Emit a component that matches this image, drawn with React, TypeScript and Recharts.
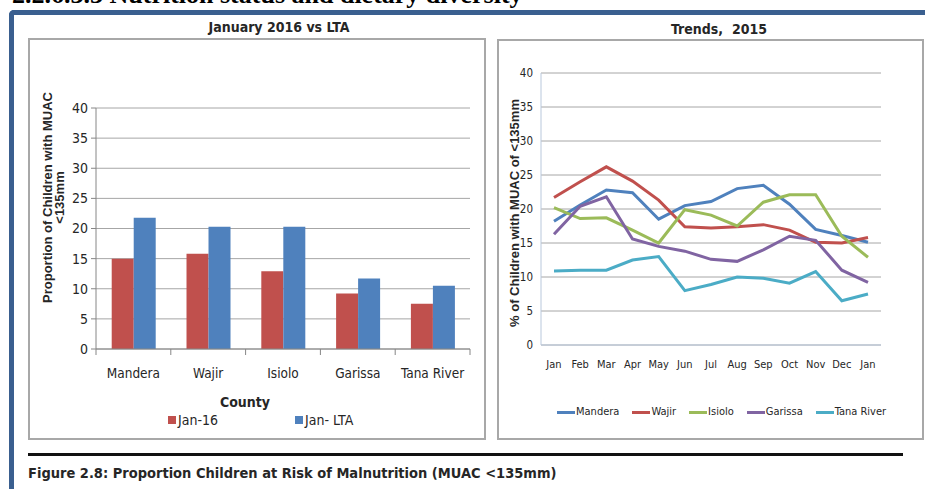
import React from "react";
import {
  BarChart,
  Bar,
  LineChart,
  Line,
  XAxis,
  YAxis,
  CartesianGrid,
  Legend,
  Label,
} from "recharts";

// left panel: January 2016 vs long term average
const counties = ["Mandera", "Wajir", "Isiolo", "Garissa", "Tana River"];
const jan16 = [15.0, 15.8, 12.9, 9.2, 7.5];
const janLta = [21.8, 20.3, 20.3, 11.7, 10.5];
const valueTicks = [0, 5, 10, 15, 20, 25, 30, 35, 40];

// right panel: monthly trend 2015
const months = ["Jan", "Feb", "Mar", "Apr", "May", "Jun", "Jul", "Aug", "Sep", "Oct", "Nov", "Dec", "Jan"];
const mandera = [18.2, 20.6, 22.8, 22.4, 18.5, 20.5, 21.1, 23.0, 23.5, 20.7, 17.0, 16.1, 15.1];
const wajir = [21.7, 24.0, 26.2, 24.1, 21.3, 17.4, 17.2, 17.4, 17.7, 16.9, 15.1, 15.0, 15.8];
const isiolo = [20.2, 18.6, 18.7, 16.9, 15.0, 19.9, 19.1, 17.5, 21.0, 22.1, 22.1, 16.0, 12.9];
const garissa = [16.3, 20.4, 21.8, 15.6, 14.5, 13.8, 12.6, 12.3, 14.0, 16.0, 15.4, 11.0, 9.2];
const tanaRiver = [10.9, 11.0, 11.0, 12.5, 13.0, 8.0, 8.9, 10.0, 9.8, 9.1, 10.8, 6.5, 7.5];

const barNames = ["Jan-16", "Jan- LTA"];
const lineNames = ["Mandera", "Wajir", "Isiolo", "Garissa", "Tana River"];

const barData = counties.map((county, i) => ({ county, jan16: jan16[i], janLta: janLta[i] }));
const lineData = months.map((month, i) => ({
  month,
  Mandera: mandera[i],
  Wajir: wajir[i],
  Isiolo: isiolo[i],
  Garissa: garissa[i],
  "Tana River": tanaRiver[i],
}));

const seriesColors: Record<string, string> = {
  Mandera: "#4f81bd",
  Wajir: "#c0504d",
  Isiolo: "#9bbb59",
  Garissa: "#8064a2",
  "Tana River": "#4bacc6",
};

const narrow = "'DejaVu Sans Condensed', 'Liberation Sans Narrow', 'Arial Narrow', sans-serif";
const sans = "'Liberation Sans', Arial, sans-serif";
const ink = "#262626";
const axisBlue = "#b9c8dc";

const ordered = (payload: any[], names: string[]) =>
  [...payload].sort((a, b) => names.indexOf(a.value) - names.indexOf(b.value));

const CountyTick = (props: any) => {
  const { x, y, payload, index } = props;
  const half = payload.offset ?? 37.4;
  const last = index === counties.length - 1;
  return (
    <g>
      <line x1={x - half} x2={x - half} y1={y - 6} y2={y} stroke="#868686" />
      {last && <line x1={x + half} x2={x + half} y1={y - 6} y2={y} stroke="#868686" />}
      <text x={x} y={y + 13} dy="0.71em" textAnchor="middle" fontSize={13.5} fontFamily={narrow} fill={ink}>
        {payload.value}
      </text>
    </g>
  );
};

const BarLegend = (props: any) => (
  <div style={{ display: "flex", gap: 77, fontFamily: narrow, fontSize: 14, color: ink, lineHeight: "18px" }}>
    {ordered(props.payload, barNames).map((p: any) => (
      <div key={p.value} style={{ display: "flex", alignItems: "center", gap: 2 }}>
        <span style={{ width: 8, height: 8, background: p.color, display: "inline-block" }} />
        <span>{p.value}</span>
      </div>
    ))}
  </div>
);

const LineLegend = (props: any) => (
  <div style={{ display: "flex", gap: 13, fontFamily: narrow, fontSize: 11, color: ink, lineHeight: "16px" }}>
    {ordered(props.payload, lineNames).map((p: any) => (
      <div key={p.value} style={{ display: "flex", alignItems: "center", gap: 1 }}>
        <span style={{ width: 18, height: 3, background: p.color, display: "inline-block" }} />
        <span>{p.value}</span>
      </div>
    ))}
  </div>
);

function CountyChart() {
  return (
    <BarChart
      width={456}
      height={400}
      data={barData}
      margin={{ top: 69, right: 15, left: 0, bottom: 0 }}
      barCategoryGap="21%"
      barGap={0}
    >
      <CartesianGrid vertical={false} stroke="#a6a6a6" />
      <XAxis
        dataKey="county"
        height={90}
        axisLine={{ stroke: "#868686" }}
        tickLine={false}
        tickSize={6}
        tickMargin={0}
        tick={<CountyTick />}
        interval={0}
      >
        <Label
          content={({ viewBox }: any) => (
            <text
              x={viewBox.x + viewBox.width / 2 - 38}
              y={viewBox.y + 58}
              textAnchor="middle"
              fontSize={14}
              fontWeight="bold"
              fontFamily={narrow}
              fill={ink}
            >
              County
            </text>
          )}
        />
      </XAxis>
      <YAxis
        width={67}
        domain={[0, 40]}
        ticks={valueTicks}
        interval={0}
        axisLine={{ stroke: "#868686" }}
        tickLine={{ stroke: "#868686" }}
        tickSize={5}
        tickMargin={3}
        tick={{ fontSize: 14, fontFamily: narrow, fill: ink }}
      >
        <Label
          content={({ viewBox }: any) => {
            const cx = 23;
            const cy = viewBox.y + viewBox.height / 2 - 31;
            return (
              <text
                transform={`rotate(-90 ${cx} ${cy})`}
                x={cx}
                y={cy}
                textAnchor="middle"
                fontSize={13}
                fontWeight="bold"
                fontFamily={sans}
                fill={ink}
              >
                <tspan x={cx} dy={0}>Proportion of Children with MUAC</tspan>
                <tspan x={cx} dy={12}>&lt;135mm</tspan>
              </text>
            );
          }}
        />
      </YAxis>
      <Legend
        layout="horizontal"
        verticalAlign="middle"
        align="center"
        content={<BarLegend />}
        wrapperStyle={{ top: 372, left: 139, width: "auto" }}
      />
      <Bar dataKey="jan16" name="Jan-16" fill="#c0504d" isAnimationActive={false} />
      <Bar dataKey="janLta" name="Jan- LTA" fill="#4f81bd" isAnimationActive={false} />
    </BarChart>
  );
}

function TrendChart() {
  return (
    <LineChart width={426} height={399} data={lineData} margin={{ top: 33, right: 42, left: 0, bottom: 0 }}>
      <CartesianGrid vertical={false} stroke="#a6a6a6" />
      <XAxis
        dataKey="month"
        height={94}
        padding={{ left: 13, right: 13 }}
        interval={0}
        axisLine={{ stroke: axisBlue }}
        tickLine={false}
        tickMargin={9}
        tick={{ fontSize: 11, fontFamily: narrow, fill: ink }}
      />
      <XAxis xAxisId="top" orientation="top" dataKey="month" height={0} tick={false} tickLine={false} axisLine={{ stroke: axisBlue }} />
      <YAxis
        width={44}
        domain={[0, 40]}
        ticks={valueTicks}
        interval={0}
        axisLine={{ stroke: axisBlue }}
        tickLine={false}
        tick={{ fontSize: 11.5, fontFamily: narrow, fill: ink }}
      >
        <Label
          content={({ viewBox }: any) => {
            const cx = 22;
            const cy = viewBox.y + viewBox.height / 2 + 4;
            return (
              <text
                transform={`rotate(-90 ${cx} ${cy})`}
                x={cx}
                y={cy}
                textAnchor="middle"
                fontSize={13}
                fontWeight="bold"
                fontFamily={sans}
                fill={ink}
              >
                % of  Children with MUAC of &lt;135mm
              </text>
            );
          }}
        />
      </YAxis>
      <YAxis yAxisId="edge" orientation="right" width={0} domain={[0, 40]} tick={false} tickLine={false} axisLine={{ stroke: axisBlue }} />
      <Legend
        layout="horizontal"
        verticalAlign="middle"
        align="center"
        content={<LineLegend />}
        wrapperStyle={{ top: 364, left: 60, width: "auto" }}
      />
      {lineNames.map((name) => (
        <Line
          key={name}
          type="linear"
          dataKey={name}
          stroke={seriesColors[name]}
          strokeWidth={3}
          dot={false}
          isAnimationActive={false}
        />
      ))}
    </LineChart>
  );
}

export default function App() {
  return (
    <div
      style={{
        position: "absolute",
        left: 0,
        top: 0,
        width: 925,
        height: 489,
        overflow: "hidden",
        background: "#fff",
      }}
    >
      <div
        style={{
          position: "absolute",
          left: 12,
          top: -18,
          fontFamily: "'Liberation Serif', 'Times New Roman', serif",
          fontWeight: "bold",
          fontSize: 26,
          lineHeight: "26px",
          whiteSpace: "nowrap",
          color: "#000",
        }}
      >
        2.2.6.3.3 Nutrition status and dietary diversity
      </div>
      <div
        style={{
          position: "absolute",
          left: 9,
          top: 10,
          width: 960,
          height: 520,
          borderTop: "5px solid #3a5f8f",
          borderLeft: "5px solid #3a5f8f",
          borderTopLeftRadius: 5,
        }}
      />
      <div
        style={{
          position: "absolute",
          left: 179,
          top: 19,
          width: 200,
          textAlign: "center",
          fontFamily: narrow,
          fontWeight: "bold",
          fontSize: 14,
          color: ink,
        }}
      >
        January 2016 vs LTA
      </div>
      <div
        style={{
          position: "absolute",
          left: 619,
          top: 21,
          width: 200,
          textAlign: "center",
          fontFamily: narrow,
          fontWeight: "bold",
          fontSize: 14,
          color: ink,
          whiteSpace: "pre",
        }}
      >
        {"Trends,  2015"}
      </div>
      <div
        style={{
          position: "absolute",
          left: 28,
          top: 38,
          width: 458,
          height: 402,
          boxSizing: "border-box",
          border: "2px solid #a8a8a8",
        }}
      />
      <div
        style={{
          position: "absolute",
          left: 497,
          top: 39,
          width: 427,
          height: 401,
          boxSizing: "border-box",
          border: "2px solid #a8a8a8",
        }}
      />
      <div style={{ position: "absolute", left: 29, top: 39 }}>
        <CountyChart />
      </div>
      <div style={{ position: "absolute", left: 497, top: 40 }}>
        <TrendChart />
      </div>
      <div style={{ position: "absolute", left: 28, top: 453, width: 875, height: 3, background: "#111" }} />
      <div
        style={{
          position: "absolute",
          left: 28,
          top: 465,
          fontFamily: narrow,
          fontWeight: "bold",
          fontSize: 14.5,
          color: ink,
          whiteSpace: "nowrap",
        }}
      >
        Figure 2.8: Proportion Children at Risk of Malnutrition (MUAC &lt;135mm)
      </div>
    </div>
  );
}
